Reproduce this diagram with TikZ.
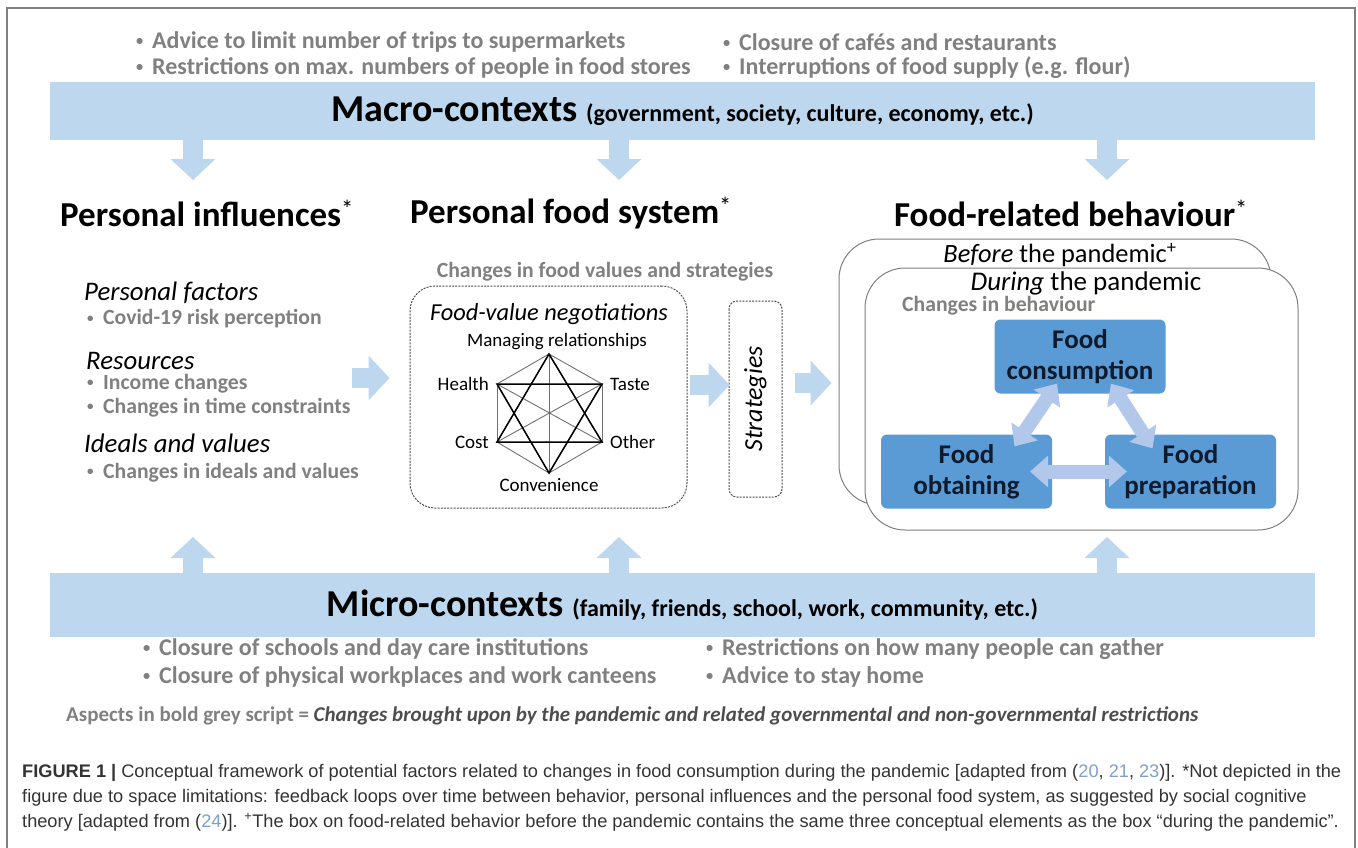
\documentclass[tikz,border=0pt]{standalone}
\usepackage{fontspec}
\setmainfont{Carlito}
\newfontfamily\capfont{Liberation Sans}
\usetikzlibrary{arrows.meta}
\usetikzlibrary{calc}
\definecolor{bandblue}{HTML}{BDD7EE}
\definecolor{boxblue}{HTML}{5B9BD5}
\definecolor{swapblue}{HTML}{B1C8EA}
\definecolor{greytext}{HTML}{808080}
\definecolor{darkgrey}{HTML}{4D4D4D}
\definecolor{linegrey}{HTML}{707070}
\definecolor{framegrey}{HTML}{7F7F7F}
\definecolor{navytext}{HTML}{0E1B2E}
\definecolor{captext}{HTML}{333333}
\definecolor{citeblue}{HTML}{7FA0CC}
\tikzset{band/.style={fill=bandblue,minimum width=1265pt,inner sep=0}}
\tikzset{block arrow/.style={draw=bandblue,line width=20pt,-{Triangle[width=45pt,length=21pt,line width=0pt]}}}
\tikzset{swap arrow/.style={draw=swapblue,line width=14pt,{Triangle[width=32pt,length=18pt,line width=0pt]}-{Triangle[width=32pt,length=18pt,line width=0pt]}}}
\tikzset{grey item/.style={anchor=west,inner sep=0,text=greytext,font=\fontsize{21.7}{26}\selectfont\bfseries}}
\tikzset{outer item/.style={grey item,font=\fontsize{24}{28}\selectfont\bfseries}}
\tikzset{sub head/.style={anchor=west,inner sep=0,font=\fontsize{26.8}{30}\selectfont\itshape}}
\tikzset{col title/.style={inner sep=0,font=\fontsize{35}{40}\selectfont\bfseries}}
\tikzset{dash box/.style={draw=darkgrey,line width=1pt,dash pattern=on 2pt off 1.2pt}}
\tikzset{value/.style={inner sep=0,font=\fontsize{19}{22}\selectfont}}
\tikzset{food box/.style={fill=boxblue,rounded corners=6pt,minimum width=171pt,minimum height=74pt,align=center,text=navytext,font=\fontsize{27}{31}\selectfont\bfseries}}
\tikzset{cap line/.style={anchor=base west,inner sep=0,text=captext,font=\capfont\fontsize{18.2}{25}\selectfont}}
\def\bul{\makebox[16pt][l]{\raisebox{0.13em}{\scalebox{0.6}{\textbullet}}}}

\begin{document}
\begin{tikzpicture}[x=1pt,y=-1pt]
  \useasboundingbox (0,0) rectangle (1358,847);

  %枠
  \draw[framegrey,line width=1.5pt] (7,852) -- (7,8) -- (1355,8) -- (1355,852);

  %マクロ
  \node[outer item] (m1) at (136,42) {\bul Advice to limit number of trips to supermarkets};
  \node[outer item] (m2) at (136,68) {\bul Restrictions on max. numbers of people in food stores};
  \node[outer item] (m3) at (723,42) {\bul Closure of cafés and restaurants};
  \node[outer item] (m4) at (723,68) {\bul Interruptions of food supply (e.g. flour)};
  \node[band,minimum height=58pt] (macro) at (682.5,111)
    {\fontsize{38}{42}\selectfont\bfseries Macro-contexts {\fontsize{24}{28}\selectfont (government, society, culture, economy, etc.)}};

  \coordinate (d1) at (193,180);
  \coordinate (d2) at (619,180);
  \coordinate (d3) at (1107,180);
  \foreach \d in {d1,d2,d3}
    \draw[block arrow] (macro.south -| \d) -- (\d);

  %タイトル
  \node[col title] (pi) at (207,213) {Personal influences\textsuperscript{\normalfont*}};
  \node[col title] (pf) at (571,213) {Personal food system\textsuperscript{\normalfont*}};
  \node[col title] (fb) at (1071,213) {Food-related behaviour\textsuperscript{\normalfont*}};

  %個人
  \node[sub head] (pfac) at (84,293) {Personal factors};
  \node[grey item] (p1) at (87,319) {\bul Covid-19 risk perception};
  \node[sub head,anchor=base west,text depth=0pt] (res) at (86,369) {Resources};
  \node[grey item,anchor=base west] (p2) at (87,389) {\bul Income changes};
  \node[grey item] (p3) at (87,408) {\bul Changes in time constraints};
  \node[sub head] (ideal) at (84,443) {Ideals and values};
  \node[grey item] (p4) at (87,473) {\bul Changes in ideals and values};

  %食システム
  \node[grey item,anchor=center] (chv) at (605,272) {Changes in food values and strategies};
  \node[dash box,rounded corners=25pt,minimum width=277pt,minimum height=222pt] (neg) at (548.5,397) {};
  \node[inner sep=0,font=\fontsize{24.4}{28}\selectfont\itshape] (negt) at (549,314) {Food-value negotiations};

  \coordinate (v1) at (549,354);
  \coordinate (v2) at (602,384);
  \coordinate (v3) at (602,442);
  \coordinate (v4) at (549,473);
  \coordinate (v5) at (497,442);
  \coordinate (v6) at (497,384);
  \foreach \i in {1,...,6}
    \foreach \j in {\i,...,6}
      \draw[linegrey,line width=0.9pt] (v\i) -- (v\j);
  \draw[black,line width=1.5pt] (v1) -- (v3) -- (v5) -- cycle;
  \draw[black,line width=1.5pt] (v2) -- (v4) -- (v6) -- cycle;

  \node[value] (mr) at (557,342) {Managing relationships};
  \node[value,anchor=east] (he) at ([xshift=-8pt]v6) {Health};
  \node[value,anchor=west] (ta) at ([xshift=8pt]v2) {Taste};
  \node[value,anchor=east] (co) at ([xshift=-8pt]v5) {Cost};
  \node[value,anchor=west] (ot) at ([xshift=8pt]v3) {Other};
  \node[value] (cv) at (549,485) {Convenience};

  \node[dash box,rounded corners=8pt,rotate=90,minimum width=196pt,minimum height=53pt,font=\fontsize{26}{30}\selectfont\itshape] (strat) at (755.5,399) {Strategies};

  %行動
  \node[draw=framegrey,line width=1pt,rounded corners=40pt,minimum width=432pt,minimum height=266pt] (before) at (1055,372) {};
  \node[draw=framegrey,fill=white,line width=1pt,rounded corners=40pt,minimum width=433pt,minimum height=262pt] (during) at (1081.5,399) {};
  \node[inner sep=0,font=\fontsize{26.4}{30}\selectfont] (bt) at (1060,255) {\textit{Before} the pandemic\textsuperscript{+}};
  \node[inner sep=0,font=\fontsize{27}{30}\selectfont] (dt) at (1086,283) {\textit{During} the pandemic};
  \node[grey item] (chb) at (902,306) {Changes in behaviour};

  \node[food box] (cons) at (1080,356.5) {Food\\consumption};
  \node[food box] (obt) at (966.5,471.5) {Food\\obtaining};
  \node[food box] (prep) at (1190.5,471.5) {Food\\preparation};

  \draw[swap arrow] ([xshift=-23pt,yshift=10pt]cons.south) -- ([xshift=48pt,yshift=-12pt]obt.north);
  \draw[swap arrow] ([xshift=31pt,yshift=10pt]cons.south) -- ([xshift=-38pt,yshift=-14pt]prep.north);
  \draw[swap arrow,shorten <=-22pt,shorten >=-22pt] (obt.east) -- (prep.west);

  %矢印
  \coordinate (a1) at (352,378);
  \draw[block arrow,shorten >=20pt] (a1) -- (a1 -| neg.west);
  \coordinate (a2) at (690,385);
  \draw[block arrow,shorten >=26pt] (a2) -- (a2 -| strat.center);
  \coordinate (a3) at (795,383);
  \draw[block arrow,shorten >=7pt] (a3) -- (a3 -| before.west);

  %ミクロ
  \node[band,minimum height=64pt] (micro) at (682.5,605)
    {\fontsize{38}{42}\selectfont\bfseries Micro-contexts {\fontsize{24}{28}\selectfont (family, friends, school, work, community, etc.)}};
  \coordinate (u1) at (193,537);
  \coordinate (u2) at (619,537);
  \coordinate (u3) at (1107,537);
  \foreach \u in {u1,u2,u3}
    \draw[block arrow] (micro.north -| \u) -- (\u);

  \node[outer item] (c1) at (143,649) {\bul Closure of schools and day care institutions};
  \node[outer item] (c2) at (143,677) {\bul Closure of physical workplaces and work canteens};
  \node[outer item] (c3) at (706,649) {\bul Restrictions on how many people can gather};
  \node[outer item] (c4) at (706,677) {\bul Advice to stay home};

  %注
  \node[grey item,font=\fontsize{21}{25}\selectfont\bfseries] (aspects) at (66,716)
    {Aspects in bold grey script = {\color{darkgrey}\itshape Changes brought upon by the pandemic and related governmental and non-governmental restrictions}};

  %キャプション
  \node[cap line] (cap1) at (22,777) {\textbf{FIGURE 1 |} Conceptual framework of potential factors related to changes in food consumption during the pandemic [adapted from ({\color{citeblue}20}, {\color{citeblue}21}, {\color{citeblue}23})]. *Not depicted in the};
  \node[cap line] (cap2) at (22,802) {figure due to space limitations: feedback loops over time between behavior, personal influences and the personal food system, as suggested by social cognitive};
  \node[cap line] (cap3) at (22,827) {theory [adapted from ({\color{citeblue}24})]. \textsuperscript{+}The box on food-related behavior before the pandemic contains the same three conceptual elements as the box “during the pandemic”.};
\end{tikzpicture}
\end{document}
